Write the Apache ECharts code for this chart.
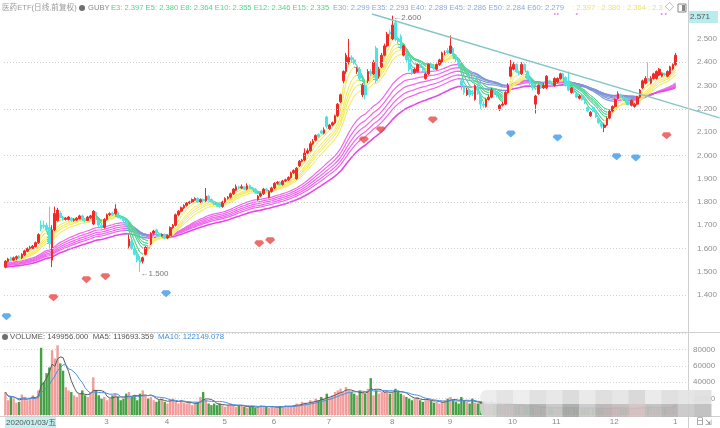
<!DOCTYPE html>
<html>
<head>
<meta charset="utf-8">
<script src="https://cdn.jsdelivr.net/npm/echarts@6/dist/echarts.min.js"></script>
<style>
html,body{margin:0;padding:0;background:#fff;}
#main{width:720px;height:428px;}
</style>
</head>
<body>
<div id="main"></div>
<script>
// Daily candles: [open, close, low, high]
const candles = [
// 2020-01
[1.52,1.545,1.515,1.55],[1.545,1.555,1.54,1.56],[1.56,1.55,1.545,1.565],[1.55,1.56,1.545,1.565],[1.558,1.565,1.55,1.57],
[1.568,1.56,1.555,1.572],[1.56,1.575,1.555,1.58],[1.572,1.59,1.568,1.595],[1.588,1.60,1.585,1.605],[1.60,1.605,1.595,1.612],
[1.60,1.61,1.598,1.615],[1.608,1.625,1.605,1.63],[1.625,1.66,1.62,1.665],[1.70,1.685,1.675,1.72],[1.70,1.695,1.685,1.72],
[1.70,1.68,1.67,1.71],
// 2020-02
[1.69,1.62,1.60,1.78],[1.55,1.68,1.52,1.70],[1.68,1.75,1.675,1.78],[1.72,1.765,1.715,1.775],[1.75,1.735,1.73,1.76],
[1.735,1.725,1.72,1.74],[1.725,1.73,1.72,1.735],[1.725,1.735,1.72,1.74],[1.73,1.72,1.715,1.735],[1.72,1.725,1.715,1.73],
[1.722,1.73,1.72,1.735],[1.728,1.74,1.725,1.745],[1.74,1.725,1.72,1.745],[1.725,1.72,1.712,1.73],[1.72,1.735,1.718,1.74],
[1.732,1.74,1.728,1.745],[1.705,1.76,1.70,1.765],[1.755,1.745,1.74,1.76],[1.72,1.70,1.69,1.725],[1.70,1.69,1.685,1.705],
// 2020-03
[1.69,1.725,1.685,1.73],[1.725,1.745,1.72,1.75],[1.745,1.75,1.74,1.755],[1.752,1.745,1.74,1.758],[1.75,1.77,1.745,1.79],
[1.755,1.735,1.73,1.76],[1.735,1.73,1.725,1.74],[1.73,1.72,1.71,1.735],[1.72,1.70,1.695,1.725],[1.61,1.64,1.60,1.66],
[1.63,1.60,1.595,1.64],[1.60,1.575,1.57,1.605],[1.575,1.55,1.54,1.58],[1.55,1.54,1.50,1.56],[1.545,1.56,1.535,1.565],
[1.575,1.605,1.57,1.61],[1.605,1.60,1.59,1.615],[1.62,1.665,1.615,1.67],[1.665,1.675,1.66,1.68],[1.68,1.665,1.66,1.685],
[1.665,1.655,1.65,1.67],[1.655,1.66,1.65,1.665],
// 2020-04
[1.66,1.645,1.64,1.665],[1.645,1.655,1.64,1.66],[1.655,1.69,1.65,1.695],[1.69,1.70,1.685,1.705],[1.70,1.745,1.695,1.75],
[1.745,1.76,1.74,1.765],[1.76,1.775,1.755,1.78],[1.775,1.785,1.77,1.79],[1.785,1.795,1.78,1.80],[1.795,1.80,1.79,1.805],
[1.80,1.81,1.795,1.815],[1.81,1.815,1.805,1.82],[1.815,1.80,1.795,1.82],[1.80,1.81,1.795,1.815],[1.81,1.805,1.80,1.815],
[1.805,1.825,1.80,1.86],[1.825,1.81,1.805,1.83],[1.81,1.80,1.795,1.815],[1.80,1.79,1.785,1.805],[1.79,1.785,1.78,1.795],
[1.795,1.78,1.775,1.80],
// 2020-05
[1.78,1.80,1.775,1.805],[1.80,1.815,1.795,1.82],[1.815,1.82,1.81,1.825],[1.82,1.835,1.815,1.84],[1.835,1.855,1.83,1.86],
[1.85,1.865,1.845,1.875],[1.865,1.86,1.855,1.87],[1.86,1.865,1.855,1.875],[1.865,1.855,1.85,1.87],[1.855,1.87,1.85,1.88],
[1.87,1.86,1.855,1.875],[1.86,1.855,1.85,1.865],[1.855,1.84,1.835,1.86],[1.81,1.825,1.805,1.83],[1.825,1.835,1.82,1.84],
[1.835,1.855,1.83,1.86],[1.855,1.85,1.845,1.86],[1.82,1.845,1.815,1.85],
// 2020-06
[1.845,1.86,1.84,1.865],[1.86,1.88,1.855,1.885],[1.88,1.885,1.875,1.89],[1.885,1.875,1.87,1.89],[1.875,1.89,1.87,1.895],
[1.89,1.895,1.885,1.90],[1.895,1.905,1.89,1.91],[1.905,1.925,1.90,1.93],[1.925,1.935,1.92,1.94],[1.90,1.945,1.895,1.95],
[1.955,1.975,1.95,1.98],[1.975,1.98,1.97,1.985],[1.98,2.01,1.975,2.03],[2.01,2.02,2.005,2.03],[2.02,2.05,2.015,2.06],
[2.05,2.06,2.045,2.07],[2.065,2.085,2.06,2.09],[2.09,2.08,2.075,2.095],[2.105,2.095,2.09,2.11],[2.095,2.11,2.09,2.12],
// 2020-07
[2.165,2.125,2.115,2.17],[2.115,2.13,2.11,2.135],[2.13,2.14,2.125,2.145],[2.14,2.17,2.135,2.175],[2.17,2.22,2.165,2.225],
[2.23,2.26,2.225,2.265],[2.32,2.36,2.31,2.365],[2.36,2.43,2.35,2.44],[2.40,2.42,2.39,2.50],[2.42,2.41,2.40,2.43],
[2.41,2.40,2.39,2.42],[2.36,2.37,2.35,2.38],[2.37,2.33,2.32,2.38],[2.26,2.30,2.25,2.31],[2.30,2.26,2.24,2.31],
[2.32,2.36,2.31,2.37],[2.36,2.35,2.34,2.37],[2.35,2.40,2.345,2.41],[2.46,2.32,2.31,2.47],[2.34,2.37,2.33,2.38],
[2.38,2.43,2.375,2.44],[2.43,2.47,2.425,2.48],[2.47,2.52,2.465,2.53],
// 2020-08
[2.53,2.52,2.51,2.54],[2.50,2.56,2.495,2.60],[2.57,2.50,2.49,2.58],[2.50,2.49,2.48,2.51],[2.51,2.46,2.455,2.52],
[2.43,2.47,2.425,2.475],[2.43,2.41,2.40,2.44],[2.41,2.37,2.36,2.415],[2.37,2.355,2.345,2.375],[2.355,2.37,2.35,2.375],
[2.36,2.39,2.355,2.395],[2.39,2.38,2.375,2.395],[2.38,2.365,2.36,2.385],[2.33,2.35,2.325,2.355],[2.35,2.39,2.345,2.395],
[2.39,2.38,2.375,2.395],[2.38,2.37,2.365,2.385],[2.37,2.39,2.365,2.395],[2.39,2.41,2.385,2.415],[2.40,2.44,2.395,2.445],
[2.44,2.44,2.43,2.45],
// 2020-09
[2.45,2.44,2.435,2.46],[2.44,2.47,2.435,2.515],[2.46,2.43,2.425,2.465],[2.43,2.41,2.40,2.435],[2.41,2.39,2.38,2.415],
[2.32,2.30,2.28,2.33],[2.30,2.27,2.26,2.305],[2.26,2.28,2.255,2.29],[2.28,2.26,2.25,2.285],[2.27,2.265,2.255,2.28],
[2.24,2.30,2.235,2.305],[2.30,2.27,2.26,2.305],[2.26,2.22,2.20,2.265],[2.22,2.215,2.205,2.23],[2.21,2.24,2.205,2.245],
[2.24,2.25,2.235,2.26],[2.25,2.28,2.245,2.29],[2.28,2.27,2.265,2.285],[2.27,2.26,2.25,2.275],[2.20,2.215,2.19,2.22],
[2.215,2.22,2.21,2.23],[2.22,2.27,2.215,2.275],
// 2020-10
[2.27,2.30,2.265,2.31],[2.34,2.38,2.335,2.41],[2.37,2.39,2.365,2.40],[2.39,2.36,2.355,2.395],[2.36,2.35,2.345,2.365],
[2.35,2.39,2.345,2.40],[2.39,2.37,2.365,2.395],[2.36,2.33,2.325,2.365],[2.33,2.31,2.30,2.335],[2.31,2.29,2.28,2.315],
[2.22,2.255,2.18,2.26],[2.265,2.30,2.26,2.305],[2.30,2.29,2.285,2.305],[2.29,2.30,2.285,2.31],[2.29,2.34,2.285,2.345],
[2.32,2.31,2.305,2.325],
// 2020-11
[2.31,2.30,2.295,2.315],[2.30,2.33,2.295,2.335],[2.315,2.33,2.31,2.335],[2.33,2.35,2.325,2.355],[2.35,2.335,2.33,2.355],
[2.335,2.30,2.295,2.34],[2.32,2.28,2.275,2.36],[2.27,2.29,2.265,2.295],[2.29,2.27,2.265,2.295],[2.265,2.25,2.245,2.27],
[2.245,2.255,2.24,2.26],[2.255,2.24,2.235,2.26],[2.24,2.225,2.22,2.245],[2.205,2.19,2.185,2.21],[2.17,2.185,2.165,2.19],
[2.205,2.19,2.185,2.21],[2.185,2.165,2.16,2.19],[2.16,2.14,2.135,2.165],[2.14,2.125,2.115,2.145],[2.12,2.13,2.10,2.135],
[2.13,2.16,2.125,2.165],
// 2020-12
[2.16,2.19,2.155,2.195],[2.19,2.21,2.185,2.215],[2.21,2.24,2.205,2.245],[2.245,2.265,2.24,2.275],[2.26,2.25,2.245,2.265],
[2.25,2.245,2.24,2.255],[2.245,2.23,2.225,2.25],[2.23,2.22,2.215,2.235],[2.215,2.235,2.21,2.24],[2.21,2.22,2.205,2.225],
[2.22,2.25,2.215,2.255],[2.25,2.28,2.245,2.285],[2.29,2.32,2.285,2.325],[2.31,2.33,2.305,2.34],[2.33,2.32,2.31,2.40],
[2.31,2.33,2.305,2.34],[2.33,2.35,2.325,2.355],[2.33,2.36,2.325,2.365],[2.345,2.37,2.34,2.375],[2.34,2.35,2.335,2.355],
[2.35,2.345,2.34,2.355],[2.34,2.36,2.335,2.365],[2.35,2.38,2.345,2.385],
// 2021-01
[2.37,2.39,2.365,2.395],[2.39,2.43,2.385,2.44]
];

// Daily volume
const volumes = [
28000,18000,22000,20000,15000,16000,25000,22000,18000,20000,24000,22000,30000,82000,40000,51000,
58000,79000,69000,85000,63000,54000,34000,30000,28000,24000,22000,26000,30000,24000,22000,28000,46000,30000,24000,20000,
22000,18000,20000,24000,26000,22000,18000,20000,26000,28000,22000,24000,18000,26000,30000,24000,20000,22000,18000,16000,18000,20000,
16000,14000,18000,20000,16000,14000,18000,15000,14000,16000,12000,14000,16000,22000,28000,18000,14000,12000,14000,12000,14000,
12000,10000,12000,14000,12000,10000,11000,12000,10000,9000,10000,11000,9000,10000,12000,11000,10000,9000,
10000,9000,10000,11000,10000,12000,11000,10000,12000,14000,13000,16000,15000,14000,18000,16000,20000,18000,22000,20000,
26000,22000,24000,28000,30000,32000,28000,34000,30000,28000,26000,24000,30000,28000,26000,32000,45000,24000,30000,26000,28000,30000,28000,
26000,28000,32000,30000,26000,24000,22000,20000,18000,20000,22000,18000,16000,18000,20000,17000,15000,16000,14000,16000,18000,
20000,22000,18000,16000,14000,22000,18000,16000,14000,20000,15000,14000,16000,14000,13000,12000,18000,14000,12000,14000,12000,13000,
14000,13000,12000,11000,12000,10000,11000,10000,12000,9000,10000,9000,8000,10000,9000,8000,
9000,8000,10000,9000,8000,9000,8000,10000,9000,8000,7000,8000,9000,8000,9000,8000,7000,8000,9000,8000,7000,
8000,9000,10000,9000,8000,7000,8000,9000,8000,7000,8000,10000,11000,9000,10000,9000,8000,9000,10000,9000,8000,9000,10000,12000,14000
];

// Month starts on the time axis and their labels
const monthStarts = [36, 58, 79, 97, 117, 140, 161, 183, 199, 220, 243];
const monthLabels = ['3', '4', '5', '6', '7', '8', '9', '10', '11', '12', '1'];

// GUBY periods and the averages carried in from before the first session
const shortPeriods = [3, 5, 8, 10, 12, 15];
const shortSeeds = [1.548, 1.546, 1.545, 1.544, 1.543, 1.542];
const longPeriods = [30, 35, 40, 45, 50, 60];
const longSeeds = [1.540, 1.536, 1.532, 1.529, 1.526, 1.520];

// Signal gems: [session index, price]
const sellGems = [[17.5,1.388],[29.5,1.466],[36.4,1.479],[92.4,1.620],[96.4,1.633],[130.5,2.066],[136.7,2.109],[155.6,2.152],[240.7,2.084]];
const buyGems = [[0.4,1.307],[58.5,1.406],[184,2.092],[201,2.075],[222.5,1.994],[229.5,1.989]];

// Extremes marked with a price
const extremeMarks = [[141, 2.600], [49, 1.500]];

// Descending resistance line: [session index, price]
const trendLine = [[133.5, 2.607], [260, 2.161]];

// Small signal dots at the top
const topDots = [[200, 2.607], [201.1, 2.607], [208, 2.607], [238.9, 2.607], [240.4, 2.607]];

// Grid levels
const priceGridLevels = [1.4, 1.6, 1.8, 2.0, 2.2, 2.4];
const volumeGridLevels = [20000, 40000, 60000, 80000];

// Legend texts
const priceLegend = [
  { text: '医药ETF(日线,前复权)', color: '#9a9a9a', x: 2 },
  { text: 'GUBY', color: '#8a8a8a', x: 88 },
  { text: 'E3: 2.397 E5: 2.380 E8: 2.364 E10: 2.355 E12: 2.346 E15: 2.335', color: '#52d486', x: 111 },
  { text: 'E30: 2.299 E35: 2.293 E40: 2.289 E45: 2.286 E50: 2.284 E60: 2.279', color: '#8aaadb', x: 333 },
  { text: ': 2.397 : 2.380 : 2.364 : 2.3', color: '#ece36a', x: 572 }
];
const volumeLegend = [
  { text: 'VOLUME: 149956.000', color: '#555555' },
  { text: 'MA5: 119693.359', color: '#555555' },
  { text: 'MA10: 122149.078', color: '#3f8fe0' }
];

// Mosaic shading over the lower right corner
const mosaicTop = ['#ececec','#e2e2e2','#ededed','#dedede','#e6e6e6','#d9d9d9','#e8e8e8','#dcdcdc','#e4e4e4','#d6d6d6','#e9e9e9','#dddddd','#e3e3e3','#e0e0e0'];
const mosaicBottom = ['#d4d4d4','#c2c2c2','#bdbdbd','#b0b0b0','#c6c6c6','#a9a9a9','#c9c9c9','#bcb3b3','#c4baba','#d2c2c2','#bfbfbf','#b6b6b6','#c8c8c8','#bdbdbd'];

const SLOTS = 249;
const closes = candles.map(c => c[1]);
const FONT = 'Liberation Sans, Noto Sans CJK SC, sans-serif';

function ema(values, n, seed) {
  const k = 2 / (n + 1);
  let e = seed;
  return values.map(v => { e = e + k * (v - e); return +e.toFixed(4); });
}
function sma(values, n) {
  return values.map((v, i) => {
    const from = Math.max(0, i - n + 1);
    let s = 0;
    for (let j = from; j <= i; j++) s += values[j];
    return Math.round(s / (i - from + 1));
  });
}
// Colour each stretch of an average by whether it is rising or falling
function trendPieces(values, upColor, downColor) {
  const pieces = [];
  let runStart = 1, runColor = null;
  for (let i = 1; i < values.length; i++) {
    const c = values[i] >= values[i - 1] ? upColor : downColor;
    if (c !== runColor) {
      if (runColor) pieces.push({ gt: runStart - 1, lte: i - 1, color: runColor });
      runColor = c; runStart = i;
    }
  }
  pieces.push({ gt: runStart - 1, lte: SLOTS + 5, color: runColor });
  pieces[0] = { gte: -5, lte: pieces[0].lte, color: pieces[0].color };
  return pieces;
}

const categories = [];
for (let i = 0; i < SLOTS; i++) categories.push(String(i));

const series = [];
const visualMaps = [];

longPeriods.forEach((p, k) => {
  const data = ema(closes, p, longSeeds[k]);
  const s = {
    type: 'line', name: 'E' + p, xAxisIndex: 0, yAxisIndex: 0,
    data: data, showSymbol: false, symbol: 'none', z: 1, silent: true,
    lineStyle: { width: k === longPeriods.length - 1 ? 1.6 : 1.2 }
  };
  if (k === 0) {
    s.markLine = {
      silent: true, symbol: 'none', label: { show: false },
      lineStyle: { type: [1, 2], color: '#cfcfcf', width: 1 },
      data: priceGridLevels.map(v => ({ yAxis: v }))
    };
  }
  visualMaps.push({ show: false, seriesIndex: series.length, dimension: 0,
    pieces: trendPieces(data, k === longPeriods.length - 1 ? '#e44ae4' : '#ef66ef', '#7f95d6') });
  series.push(s);
});
shortPeriods.forEach((p, k) => {
  const data = ema(closes, p, shortSeeds[k]);
  visualMaps.push({ show: false, seriesIndex: series.length, dimension: 0,
    pieces: trendPieces(data, '#f3ec72', '#56d696') });
  series.push({
    type: 'line', name: 'E' + p, xAxisIndex: 0, yAxisIndex: 0,
    data: data, showSymbol: false, symbol: 'none', z: 2, silent: true,
    lineStyle: { width: 1 }
  });
});

series.push({
  type: 'candlestick', name: 'K', xAxisIndex: 0, yAxisIndex: 0, z: 3,
  data: candles, barWidth: 2.2,
  itemStyle: { color: '#f02a2a', color0: '#4fe2e2', borderColor: '#f02a2a', borderColor0: '#4fe2e2', borderWidth: 1 }
});

const gemPath = 'path://M2,0 L8,0 L10,3 L5,8 L0,3 Z';
series.push({
  type: 'scatter', xAxisIndex: 1, yAxisIndex: 0, z: 5, silent: true,
  data: sellGems, symbol: gemPath, symbolSize: [10, 7],
  itemStyle: { color: '#e94848' }
});
series.push({
  type: 'scatter', xAxisIndex: 1, yAxisIndex: 0, z: 5, silent: true,
  data: buyGems, symbol: gemPath, symbolSize: [10, 7],
  itemStyle: { color: '#3f9ae8' }
});
series.push({
  type: 'scatter', xAxisIndex: 1, yAxisIndex: 0, z: 6, silent: true,
  data: extremeMarks, symbolSize: 1, itemStyle: { color: 'rgba(0,0,0,0)' },
  label: {
    show: true, position: 'right', distance: 0, offset: [0, 2],
    formatter: p => '\u2190' + p.value[1].toFixed(3),
    color: '#555', fontSize: 8, fontFamily: FONT
  }
});
series.push({
  type: 'scatter', xAxisIndex: 1, yAxisIndex: 0, z: 6, silent: true, clip: false,
  data: topDots, symbolSize: 2, itemStyle: { color: '#e46ae4' }
});

const volumeData = volumes.map((v, i) => ({
  value: v,
  itemStyle: { color: candles[i][1] >= candles[i][0] ? '#f39c9c' : '#45a145' }
}));
series.push({
  type: 'bar', xAxisIndex: 2, yAxisIndex: 1, data: volumeData, barWidth: 2.4, silent: true, z: 2
});
series.push({
  type: 'line', xAxisIndex: 2, yAxisIndex: 1, data: sma(volumes, 5), showSymbol: false, symbol: 'none',
  lineStyle: { color: '#5a5a5a', width: 1 }, z: 3, silent: true
});
series.push({
  type: 'line', xAxisIndex: 2, yAxisIndex: 1, data: sma(volumes, 10), showSymbol: false, symbol: 'none',
  lineStyle: { color: '#4a90e2', width: 1 }, z: 3, silent: true
});

const chart = echarts.init(document.getElementById('main'), null, { renderer: 'canvas' });
chart.setOption({
  animation: false,
  backgroundColor: '#ffffff',
  grid: [
    { left: 4, top: 4, width: 684, height: 326, outerBoundsMode: 'none', containLabel: false },
    { left: 4, top: 333, width: 684, height: 82, outerBoundsMode: 'none', containLabel: false }
  ],
  xAxis: [
    { type: 'category', gridIndex: 0, data: categories, boundaryGap: true, show: false },
    { type: 'value', gridIndex: 0, min: -0.5, max: SLOTS - 0.5, show: false },
    { type: 'category', gridIndex: 1, data: categories, boundaryGap: true,
      axisLine: { show: false }, axisTick: { show: false },
      axisLabel: {
        interval: (idx) => monthStarts.indexOf(idx) >= 0,
        formatter: (val, idx) => { const m = monthStarts.indexOf(idx); return m >= 0 ? monthLabels[m] : ''; },
        color: '#8a8a8a', fontSize: 8, fontFamily: FONT, margin: 3, align: 'left'
      },
      splitLine: { show: false } }
  ],
  yAxis: [
    { type: 'value', gridIndex: 0, position: 'right', min: 1.25, max: 2.65, interval: 0.05,
      axisLine: { show: false }, axisTick: { show: false }, splitLine: { show: false },
      axisLabel: {
        margin: 9, color: '#8f8f8f', fontSize: 8, fontFamily: FONT,
        formatter: (v) => { const t = Math.round(v * 100); return (t % 10 === 0 && t >= 140 && t <= 250) ? v.toFixed(3) : ''; }
      } },
    { type: 'value', gridIndex: 1, position: 'right', min: 0, max: 100000, interval: 20000,
      axisLine: { show: false }, axisTick: { show: false },
      splitLine: { show: true, lineStyle: { type: [1, 2], color: '#d6d6d6' } },
      axisLabel: {
        margin: 5, color: '#8f8f8f', fontSize: 8, fontFamily: FONT,
        formatter: (v) => volumeGridLevels.indexOf(v) >= 0 ? String(v) : ''
      } }
  ],
  visualMap: visualMaps,
  series: series
});

// ---- overlay drawing: frame, legends, tags, trend line ----
const measureCtx = document.createElement('canvas').getContext('2d');
function txt(x, y, text, fill, size) {
  return { type: 'text', x: x, y: y, silent: true, z: 100,
    style: { text: text, fill: fill, font: (size || 8) + 'px ' + FONT, verticalAlign: 'middle', textVerticalAlign: 'middle' } };
}

const graphics = [
  { type: 'line', silent: true, z: 50, shape: { x1: 688.5, y1: 0, x2: 688.5, y2: 428 }, style: { stroke: '#cfcfcf', lineWidth: 1 } },
  { type: 'line', silent: true, z: 50, shape: { x1: 0, y1: 332.5, x2: 720, y2: 332.5 }, style: { stroke: '#cfcfcf', lineWidth: 1 } },
  { type: 'line', silent: true, z: 50, shape: { x1: 0, y1: 416.5, x2: 720, y2: 416.5 }, style: { stroke: '#cfcfcf', lineWidth: 1 } },
  { type: 'circle', silent: true, z: 100, shape: { cx: 82, cy: 8, r: 3 }, style: { fill: '#6f6f6f' } },
  txt(665, 8, '\u25C7', '#888', 9),
  { type: 'rect', silent: true, z: 100, shape: { x: 678, y: 4, width: 8, height: 8 }, style: { fill: '#fff', stroke: '#888', lineWidth: 1 } },
  { type: 'rect', silent: true, z: 100, shape: { x: 682, y: 5, width: 3, height: 6 }, style: { fill: '#888' } },
  { type: 'rect', silent: true, z: 100, shape: { x: 689, y: 11, width: 29, height: 12 }, style: { fill: '#b9ecec' } },
  txt(690, 17, '2.571', '#555'),
  { type: 'circle', silent: true, z: 100, shape: { cx: 5, cy: 337, r: 3 }, style: { fill: '#6f6f6f' } },
  { type: 'rect', silent: true, z: 100, shape: { x: 5, y: 417, width: 51, height: 11 }, style: { fill: '#c6efef' } },
  txt(6, 422.5, '2020/01/03/五', '#555'),
  txt(696, 422, '日', '#777', 8),
  txt(705, 423, '\u21F2', '#777', 8)
];

priceLegend.forEach(item => graphics.push(txt(item.x, 8, item.text, item.color, 7.6)));

let vx = 10;
measureCtx.font = '7.8px ' + FONT;
volumeLegend.forEach(item => {
  graphics.push(txt(vx, 337, item.text, item.color, 7.8));
  vx += measureCtx.measureText(item.text + '  ').width;
});

const mx0 = 480, cw = 16.5;
mosaicTop.forEach((c, i) => {
  graphics.push({ type: 'rect', silent: true, z: 90,
    shape: { x: mx0 + i * cw, y: 390, width: cw + 0.5, height: 14, r: i === 0 ? [7, 0, 0, 7] : 0 },
    style: { fill: c, opacity: 0.92 } });
});
mosaicBottom.forEach((c, i) => {
  graphics.push({ type: 'rect', silent: true, z: 90,
    shape: { x: mx0 + i * cw, y: 404, width: cw + 0.5, height: 13, r: i === 0 ? [0, 0, 0, 7] : 0 },
    style: { fill: c, opacity: 0.92 } });
});

// resistance line, placed through the chart's own scales and allowed past the plot edge
const p1 = chart.convertToPixel({ xAxisIndex: 1, yAxisIndex: 0 }, trendLine[0]);
const p2 = chart.convertToPixel({ xAxisIndex: 1, yAxisIndex: 0 }, trendLine[1]);
graphics.push({ type: 'line', silent: true, z: 40,
  shape: { x1: p1[0], y1: p1[1], x2: p2[0], y2: p2[1] },
  style: { stroke: '#86c6c4', lineWidth: 1.5 } });

chart.setOption({ graphic: graphics });
</script>
</body>
</html>
